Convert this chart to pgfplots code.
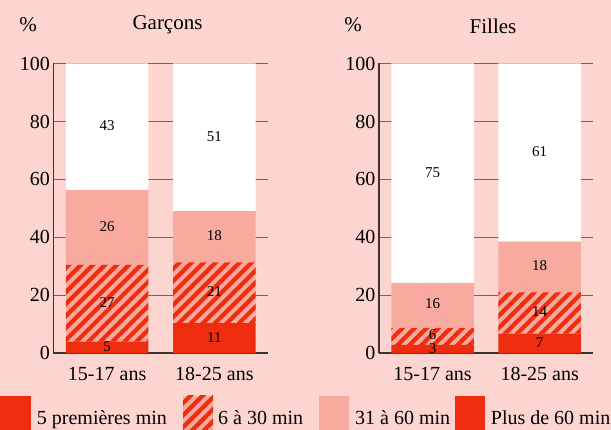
\documentclass[border=0pt]{standalone}
\usepackage{pgfplots}
\pgfplotsset{compat=1.18}
\usetikzlibrary{patterns.meta}
\usepackage{fontspec}
\setmainfont{Liberation Serif}

\definecolor{bg}{HTML}{FCD5D0}
\definecolor{redc}{HTML}{EE2C0E}
\definecolor{salmonc}{HTML}{F8AA9E}
\definecolor{gridc}{HTML}{766464}
\definecolor{axisc}{HTML}{3C3232}

\pgfplotsset{
  panel/.style={
    scale only axis, anchor=south west, clip=false,
    width=214.5pt, height=289.8pt,
    xmin=0, xmax=2, ymin=0, ymax=100,
    ybar stacked, bar width=82.5pt,
    axis x line=bottom, axis y line=left,
    axis line style={-, draw=axisc, line width=1.6pt},
    xtick={0.5,1.5}, xticklabels={15-17 ans,18-25 ans},
    ytick={0,20,...,100},
    yticklabel={\pgfmathprintnumber[assume math mode=true]{\tick}},
    ymajorgrids, grid style={draw=gridc, line width=1.3pt},
    major tick length=0pt,
    tick label style={font=\fontsize{20}{24}\selectfont},
    xticklabel style={yshift=-10pt},
    /pgf/number format/assume math mode=true,
  },
  seg1/.style={fill=redc, draw=none},
  seg2/.style={fill=salmonc, draw=none,
    postaction={pattern={Lines[angle=45,distance=8.5pt,line width=4.2pt]}, pattern color=redc}},
  seg3/.style={fill=salmonc, draw=none},
  seg4/.style={fill=white, draw=none},
}
\newcommand{\lab}[3]{\node[font=\fontsize{15}{18}\selectfont, inner sep=0pt] at (axis cs:#1,#2) {#3};}

\begin{document}
\begin{tikzpicture}
\fill[bg, use as bounding box] (0,0) rectangle (611pt,430pt);

% Garcons
\begin{axis}[panel, at={(53.5pt,76.7pt)},
  after end axis/.code={
    \lab{0.5}{2.3}{5}
    \lab{0.5}{17.6}{27}
    \lab{0.5}{43.7}{26}
    \lab{0.5}{78.5}{43}
    \lab{1.5}{5.5}{11}
    \lab{1.5}{21.2}{21}
    \lab{1.5}{40.5}{18}
    \lab{1.5}{74.7}{51}
  }]
  \addplot[seg1] coordinates {(0.5,4.0) (1.5,10.4)};
  \addplot[seg2] coordinates {(0.5,26.5) (1.5,21.0)};
  \addplot[seg3] coordinates {(0.5,25.9) (1.5,17.7)};
  \addplot[seg4] coordinates {(0.5,43.6) (1.5,50.9)};
\end{axis}

% Filles
\begin{axis}[panel, at={(379pt,76.7pt)}, width=214.3pt,
  after end axis/.code={
    \lab{0.5}{1.7}{3}
    \lab{0.5}{6.4}{6}
    \lab{0.5}{17.0}{16}
    \lab{0.5}{62.4}{75}
    \lab{1.5}{3.7}{7}
    \lab{1.5}{14.3}{14}
    \lab{1.5}{30.1}{18}
    \lab{1.5}{69.5}{61}
  }]
  \addplot[seg1] coordinates {(0.5,2.9) (1.5,6.8)};
  \addplot[seg2] coordinates {(0.5,5.9) (1.5,14.2)};
  \addplot[seg3] coordinates {(0.5,15.5) (1.5,17.5)};
  \addplot[seg4] coordinates {(0.5,75.7) (1.5,61.5)};
\end{axis}

% titles
\begin{scope}[every node/.style={font=\fontsize{21}{25}\selectfont, inner sep=0pt, anchor=base}]
  \node at (28pt,398.5pt) {\%};
  \node at (167.5pt,400pt) {Garçons};
  \node at (353pt,398.5pt) {\%};
  \node at (493pt,396.5pt) {Filles};
\end{scope}

% legend
\fill[redc] (0pt,0pt) rectangle (31pt,34pt);
\fill[salmonc] (183pt,0pt) rectangle (213pt,34pt);
\fill[pattern={Lines[angle=45,distance=8.5pt,line width=4.2pt]}, pattern color=redc] (183pt,0pt) rectangle (213pt,34pt);
\fill[salmonc] (319pt,0pt) rectangle (348.5pt,34pt);
\fill[redc] (455pt,0pt) rectangle (485pt,34pt);
\begin{scope}[every node/.style={font=\fontsize{20}{24}\selectfont, inner sep=0pt, anchor=base west}]
  \node at (36.7pt,5pt) {5 premières min};
  \node at (218pt,5pt) {6 à 30 min};
  \node at (355pt,5pt) {31 à 60 min};
  \node at (490.7pt,5pt) {Plus de 60 min};
\end{scope}
\end{tikzpicture}
\end{document}
